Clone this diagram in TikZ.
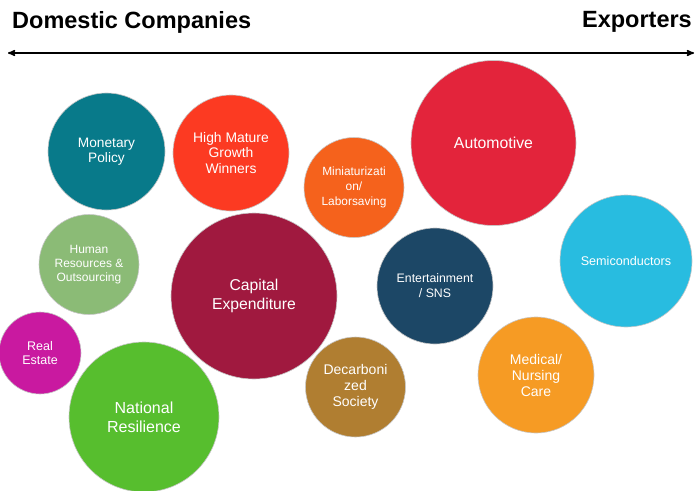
\documentclass[tikz,border=0pt]{standalone}
\usepackage{fontspec}
\setmainfont{Liberation Sans}
\usepackage{tikz}
\usetikzlibrary{arrows,positioning}

\definecolor{cMonetary}{RGB}{8,122,138}
\definecolor{cHighMature}{RGB}{252,58,34}
\definecolor{cMiniatur}{RGB}{245,98,28}
\definecolor{cAutomotive}{RGB}{227,36,59}
\definecolor{cSemicond}{RGB}{40,188,224}
\definecolor{cHumanRes}{RGB}{139,187,118}
\definecolor{cCapEx}{RGB}{160,25,63}
\definecolor{cEntertain}{RGB}{28,71,102}
\definecolor{cRealEstate}{RGB}{201,25,160}
\definecolor{cNational}{RGB}{87,190,46}
\definecolor{cDecarbon}{RGB}{176,126,49}
\definecolor{cMedical}{RGB}{246,155,36}

\begin{document}
\begin{tikzpicture}
[
	                x = 1pt,
	                y = -1pt,
	             >= stealth',
	  bubble/.style = { circle, draw=gray!45, line width=0.6pt, text=white,
	                    align=center, inner sep=0pt },
	  header/.style = { font=\fontsize{23.5}{26}\selectfont\bfseries, inner sep=0pt }
]
	\useasboundingbox (0,0) rectangle (696,490);

	% axis
	% nodes
	\node (Dom) at (12,28)  [header, anchor=base west] {Domestic Companies};
	\node (Exp) at (692,27) [header, anchor=base east] {Exporters};
	\coordinate (AxL) at (8,53);
	\coordinate (AxR) at (694,53);

	% edges
	\draw [<->, line width=1.5pt] (AxL) -- (AxR);

	% bubbles, top row
	\node (Mon)  at (106.5,151.5) [bubble, fill=cMonetary, minimum size=117pt,
	                               font=\fontsize{13.7}{15.5}\selectfont] {Monetary\\Policy};
	\node (High) at (231,153)     [bubble, fill=cHighMature, minimum size=116pt,
	                               font=\fontsize{13.9}{15.8}\selectfont] {High Mature\\Growth\\Winners};
	\node (Mini) at (354,187.5)   [bubble, fill=cMiniatur, minimum size=100pt,
	                               font=\fontsize{11.9}{14.8}\selectfont] {Miniaturizati\\on/\\Laborsaving};
	\node (Auto) at (493.5,143)   [bubble, fill=cAutomotive, minimum size=165pt,
	                               font=\fontsize{15.8}{18}\selectfont] {Automotive};

	% bubbles, middle row
	\node (Hum)  at (89,264.5)    [bubble, fill=cHumanRes, minimum size=100pt,
	                               font=\fontsize{12}{14}\selectfont] {Human\\Resources \&\\Outsourcing};
	\node (Cap)  at (254,296)     [bubble, fill=cCapEx, minimum size=166pt,
	                               font=\fontsize{15.7}{19}\selectfont] {Capital\\Expenditure};
	\node (Ent)  at (435,286)     [bubble, fill=cEntertain, minimum size=116pt,
	                               font=\fontsize{12.3}{15}\selectfont] {Entertainment\\/ SNS};
	\node (Semi) at (626,261)     [bubble, fill=cSemicond, minimum size=132pt,
	                               font=\fontsize{12.6}{15}\selectfont] {Semiconductors};

	% bubbles, bottom row
	\node (Real) at (40,353)      [bubble, fill=cRealEstate, minimum size=82pt,
	                               font=\fontsize{12.5}{14.5}\selectfont] {Real\\Estate};
	\node (Nat)  at (144,417)     [bubble, fill=cNational, minimum size=150pt,
	                               font=\fontsize{16}{19}\selectfont] {National\\Resilience};
	\node (Dec)  at (355.5,387)   [bubble, fill=cDecarbon, minimum size=100pt,
	                               font=\fontsize{14}{16}\selectfont] {Decarboni\\zed\\Society};
	\node (Med)  at (536,375)     [bubble, fill=cMedical, minimum size=116pt,
	                               font=\fontsize{14}{16}\selectfont] {Medical/\\Nursing\\Care};
\end{tikzpicture}
\end{document}
